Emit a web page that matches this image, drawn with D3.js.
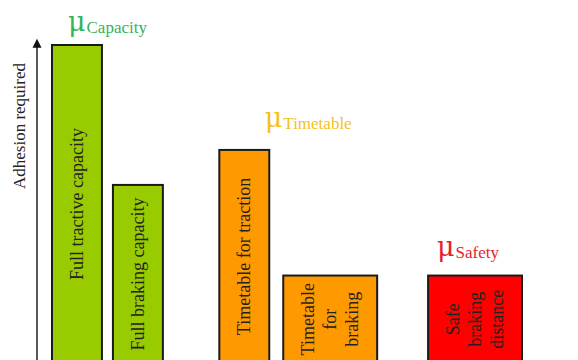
<!DOCTYPE html>
<html>
<head>
<meta charset="utf-8">
<script src="https://cdn.jsdelivr.net/npm/d3@7"></script>
<style>
  html, body { margin: 0; padding: 0; background: #fff; }
  svg { display: block; }
</style>
</head>
<body>
<svg id="chart" width="578" height="360"></svg>
<script>
// ---- data ----
const categories = ["Full tractive capacity", "Full braking capacity", "Timetable for traction", "Timetable for braking", "Safe braking distance"];
const barLines = [["Full tractive capacity"], ["Full braking capacity"], ["Timetable for traction"], ["Timetable", "for", "braking"], ["Safe", "braking", "distance"]];
const groups = ["Capacity", "Capacity", "Timetable", "Timetable", "Safety"];
const values = [10, 5.6, 6.7, 2.75, 2.75];
const groupNames = ["Capacity", "Timetable", "Safety"];
const axisTitle = "Adhesion required";

// ---- styling / layout ----
const barColor = { Capacity: "#99cc00", Timetable: "#ff9900", Safety: "#ff0000" };
const labelColor = { Capacity: "#35b25c", Timetable: "#f3c21f", Safety: "#e61e2e" };
const labelShift = { Capacity: [0, 14], Timetable: [10, 23], Safety: [-7, 20] };
const innerGapOf = { Capacity: 0.22, Timetable: 0.28, Safety: 0.25 };
const serif = "'Liberation Serif', 'Times New Roman', serif";

const svg = d3.select("#chart");

// x layout in abstract units: narrow bar = 1, wide (multi-line) bar = 1.88
const outerGap = [1.13, 1.02];
const layout = [];
let cursor = 0, gi = 0;
categories.forEach((c, i) => {
  if (i > 0) cursor += (groups[i] === groups[i - 1]) ? innerGapOf[groups[i]] : outerGap[gi++];
  const w = barLines[i].length > 1 ? 1.88 : 1;
  layout.push({ x0: cursor, x1: cursor + w });
  cursor += w;
});
const x = d3.scaleLinear().domain([0, cursor]).range([52, 522]);
const y = d3.scaleLinear().domain([0, 10]).range([363, 45]);

const bars = categories.map((c, i) => ({
  name: c, lines: barLines[i], group: groups[i], value: values[i],
  x0: layout[i].x0, x1: layout[i].x1
}));

// bars
svg.append("g").selectAll("rect").data(bars).join("rect")
  .attr("x", d => x(d.x0))
  .attr("y", d => y(d.value))
  .attr("width", d => x(d.x1) - x(d.x0))
  .attr("height", d => y(0) - y(d.value))
  .attr("fill", d => barColor[d.group])
  .attr("stroke", "#1a1a1a")
  .attr("stroke-width", 2);

// bar labels (rotated)
const lbl = svg.append("g").selectAll("text").data(bars).join("text")
  .attr("transform", d => `translate(${(x(d.x0) + x(d.x1)) / 2},${(y(d.value) + y(0)) / 2}) rotate(-90)`)
  .attr("text-anchor", "middle")
  .attr("font-family", serif)
  .attr("font-size", 18)
  .attr("fill", "#222");
lbl.selectAll("tspan").data(d => d.lines.map((t, i) => ({ t, i, n: d.lines.length }))).join("tspan")
  .attr("x", 0)
  .attr("y", d => (d.i - (d.n - 1) / 2) * 22)
  .attr("dominant-baseline", "central")
  .text(d => d.t);

// group mu labels
groupNames.forEach(g => {
  const gb = bars.filter(b => b.group === g);
  const cx = (x(d3.min(gb, b => b.x0)) + x(d3.max(gb, b => b.x1))) / 2 + labelShift[g][0];
  const top = y(d3.max(gb, b => b.value)) - labelShift[g][1];
  const t = svg.append("text")
    .attr("x", cx).attr("y", top)
    .attr("text-anchor", "middle")
    .attr("font-family", serif)
    .attr("fill", labelColor[g]);
  t.append("tspan").attr("font-family", "'DejaVu Serif', serif").attr("font-size", 27).text("\u03BC");
  t.append("tspan").attr("font-size", 17).attr("dx", 1).attr("dy", 2).text(g);
});

// y axis with arrow
const axisX = 37;
svg.append("line")
  .attr("x1", axisX).attr("x2", axisX)
  .attr("y1", y(0) + 10).attr("y2", y(10.05))
  .attr("stroke", "#222").attr("stroke-width", 1.5);
const tipY = y(10.2);
svg.append("path")
  .attr("d", `M${axisX},${tipY} L${axisX - 4.5},${tipY + 9} L${axisX + 4.5},${tipY + 9} Z`)
  .attr("fill", "#111");

svg.append("text")
  .attr("transform", `translate(19,126) rotate(-90)`)
  .attr("text-anchor", "middle")
  .attr("dominant-baseline", "central")
  .attr("font-family", serif)
  .attr("font-size", 17)
  .attr("fill", "#222")
  .text(axisTitle);
</script>
</body>
</html>
